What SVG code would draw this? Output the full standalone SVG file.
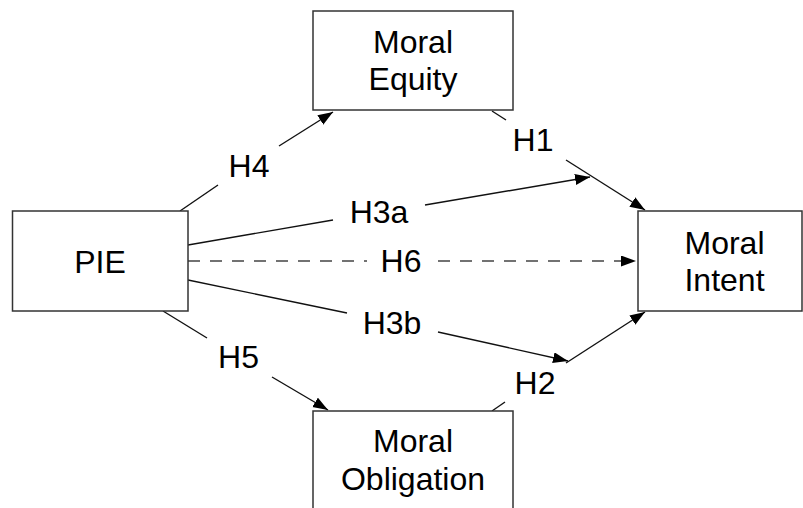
<svg xmlns="http://www.w3.org/2000/svg" width="803" height="508" viewBox="0 0 803 508">
<style>
.box{fill:#fff;stroke:#333;stroke-width:1.5}
.t{font-family:"Liberation Sans",Arial,sans-serif;font-size:32px;fill:#000;text-anchor:middle}
.c{stroke:#111;stroke-width:1.4;fill:none}
.d{stroke:#444;stroke-width:1.4;fill:none;stroke-dasharray:12 10}
</style>
<defs>
<marker id="ah" markerUnits="userSpaceOnUse" markerWidth="16" markerHeight="12" refX="15" refY="5.5" orient="auto">
<path d="M0,0 L15,5.5 L0,11 z" fill="#000"/>
</marker>
</defs>
<rect width="803" height="508" fill="#fff"/>
<g id="connectors">
<line class="c" x1="180" y1="211" x2="218" y2="185"/>
<line class="c" x1="279" y1="146" x2="333" y2="112" marker-end="url(#ah)"/>
<text class="t" x="249" y="177">H4</text>
<line class="c" x1="492" y1="111" x2="506" y2="120"/>
<line class="c" x1="566" y1="160" x2="645" y2="210" marker-end="url(#ah)"/>
<text class="t" x="533" y="151">H1</text>
<line class="c" x1="188" y1="245" x2="333" y2="220"/>
<line class="c" x1="425" y1="205" x2="590" y2="177" marker-end="url(#ah)"/>
<text class="t" x="379" y="223">H3a</text>
<line class="d" x1="188" y1="261" x2="367" y2="261"/>
<line class="d" x1="438" y1="261" x2="636" y2="261" marker-end="url(#ah)"/>
<text class="t" x="401" y="272">H6</text>
<line class="c" x1="188" y1="280" x2="347" y2="313"/>
<line class="c" x1="438" y1="332" x2="568" y2="361" marker-end="url(#ah)"/>
<text class="t" x="392" y="334">H3b</text>
<line class="c" x1="492" y1="411" x2="505" y2="402"/>
<line class="c" x1="566" y1="363" x2="645" y2="312" marker-end="url(#ah)"/>
<text class="t" x="535" y="394">H2</text>
<line class="c" x1="163" y1="311" x2="207" y2="338"/>
<line class="c" x1="272" y1="377" x2="328" y2="410" marker-end="url(#ah)"/>
<text class="t" x="238.5" y="368">H5</text>
</g>
<g id="equity">
<rect class="box" x="313" y="11" width="200" height="99"/>
<text class="t" x="413" y="53">Moral</text>
<text class="t" x="413" y="89.5">Equity</text>
</g>
<g id="pie">
<rect class="box" x="12.5" y="211" width="175.5" height="100"/>
<text class="t" x="100" y="273">PIE</text>
</g>
<g id="intent">
<rect class="box" x="638" y="211" width="164" height="100"/>
<text class="t" x="724.5" y="254">Moral</text>
<text class="t" x="724.5" y="291">Intent</text>
</g>
<g id="obligation">
<rect class="box" x="313" y="411" width="200" height="110"/>
<text class="t" x="413" y="452">Moral</text>
<text class="t" x="413" y="490">Obligation</text>
</g>
</svg>
